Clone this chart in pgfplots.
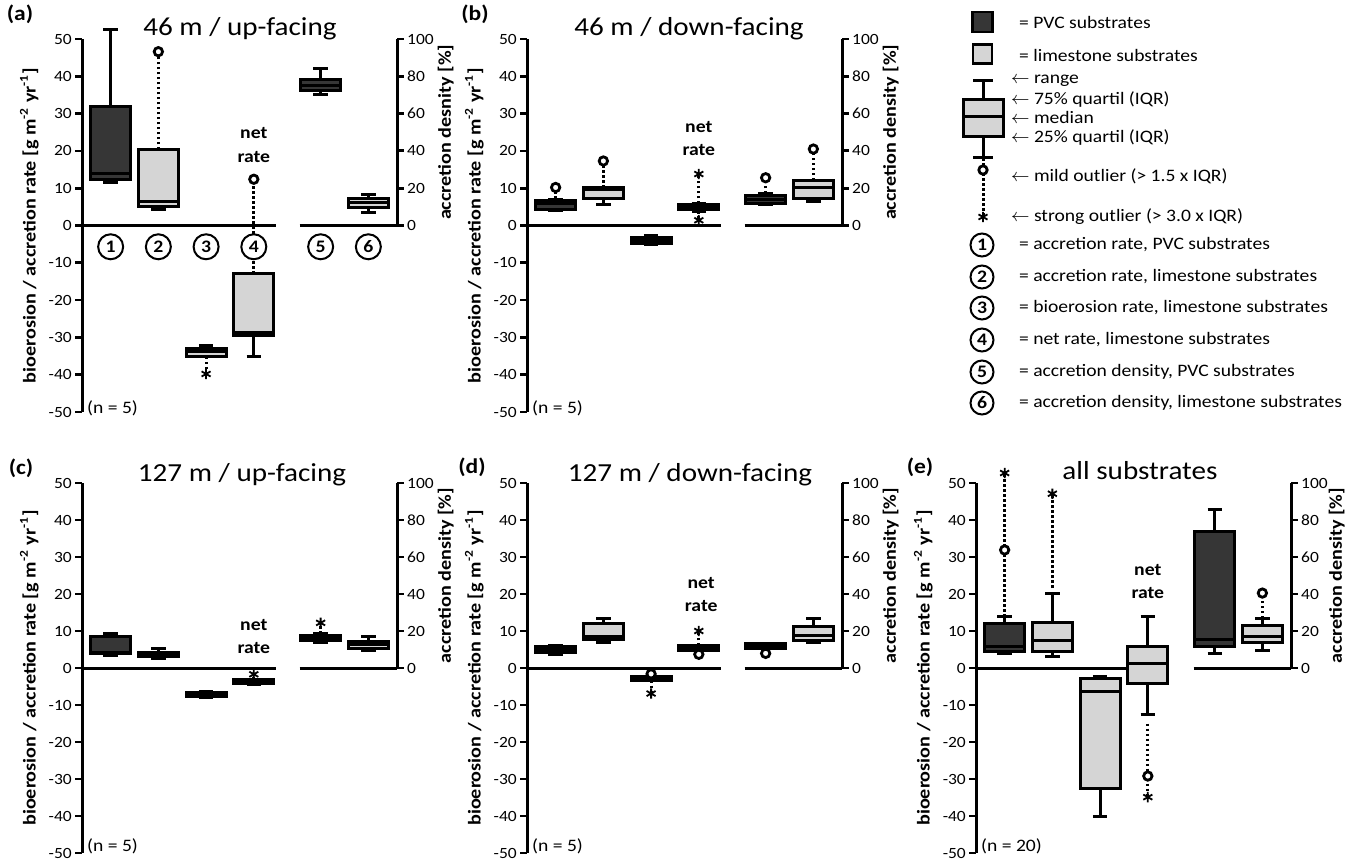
\documentclass[border=0pt]{standalone}
\usepackage{pgfplots}
\pgfplotsset{compat=1.18}
\usepgfplotslibrary{statistics}
\usepackage{fontspec}
\setmainfont{Carlito}[FakeStretch=1.12]
\definecolor{dk}{HTML}{363636}
\definecolor{lt}{HTML}{D5D5D5}
\newcommand\tfont{\fontsize{13}{15}\selectfont}
\newcommand\lfont{\fontsize{8.75}{10.5}\selectfont}
\newcommand\bfont{\bfseries\fontsize{8.8}{10}\selectfont}
\pgfplotsset{
  base/.style={scale only axis, xmin=0, xmax=6.6, clip=false, axis x line=none, xtick=\empty,
    axis line style={line width=1.5pt, black},
    major tick style={line width=1.4pt, black}, major tick length=3.4pt, tick align=outside,
    /pgf/number format/assume math mode=true,
    yticklabel style={font=\fontsize{7.8}{8}\selectfont, inner sep=1.5pt},
    ylabel style={font=\bfseries\fontsize{9}{10}\selectfont},
    boxplot/draw direction=y,
    boxplot/box extend=0.84, boxplot/whisker extend=0.3},
  mainax/.style={base, width=157.5pt, ymin=-50, ymax=50, axis y line*=left, ytick={-50,-40,...,50},
    ylabel={bioerosion / accretion rate [g m\textsuperscript{-2} yr\textsuperscript{-1}]}},
  rightax/.style={base, width=157.5pt, ymin=0, ymax=100, axis y line*=right, ytick={0,20,...,100}, ylabel shift=-3pt},
  dbox/.style={draw=black, line width=1.5pt,
    boxplot/every box/.style={draw=black, fill=dk, line width=1.5pt},
    boxplot/every median/.style={line width=1.5pt},
    boxplot/every whisker/.style={line width=1.5pt}},
  lbox/.style={draw=black, line width=1.5pt,
    boxplot/every box/.style={draw=black, fill=lt, line width=1.5pt},
    boxplot/every median/.style={line width=1.5pt},
    boxplot/every whisker/.style={line width=1.5pt}},
  zl/.style={line width=1.5pt, black},
  dot/.style={line width=1.5pt, black, dash pattern=on 1.3pt off 1.2pt},
  mild/.style={only marks, mark=*, mark size=2.1pt, mark options={fill=white, draw=black, line width=1.4pt}},
  strong/.style={only marks, mark=asterisk, mark size=2.6pt, mark options={line width=0.9pt, black}},
}
\tikzset{circ/.style={circle, draw=black, line width=1pt, fill=white, minimum size=12.5pt, inner sep=0pt, font=\bfseries\fontsize{8.8}{10}\selectfont}}
\begin{document}
\begin{tikzpicture}
\useasboundingbox (0,0) rectangle (676pt,431pt);
% titles and panel labels
\node[anchor=base, font=\tfont] at (120pt,413pt) {46 m / up-facing};
\node[anchor=base, font=\tfont] at (344.5pt,413pt) {46 m / down-facing};
\node[anchor=base, font=\tfont] at (121pt,190pt) {127 m / up-facing};
\node[anchor=base, font=\tfont] at (345pt,190pt) {127 m / down-facing};
\node[anchor=base, font=\tfont] at (570pt,191pt) {all substrates};
\node[font=\bfseries\fontsize{10.5}{12}\selectfont] at (10pt,424pt) {(a)};
\node[font=\bfseries\fontsize{10.5}{12}\selectfont] at (237.5pt,424pt) {(b)};
\node[font=\bfseries\fontsize{10.5}{12}\selectfont] at (10.5pt,197pt) {(c)};
\node[font=\bfseries\fontsize{10.5}{12}\selectfont] at (236pt,197.5pt) {(d)};
\node[font=\bfseries\fontsize{10.5}{12}\selectfont] at (460pt,197.5pt) {(e)};

% ================= (a)
\begin{axis}[mainax, name=A, at={(41pt,225pt)}, anchor=south west, height=186.5pt]
 \addplot[zl] coordinates {(0,0)(4.06,0)};
 \addplot[zl] coordinates {(4.56,0)(6.6,0)};
 \addplot[dot] coordinates {(1.6,20.4)(1.6,46.6)};
 \addplot[dot] coordinates {(2.6,-35.2)(2.6,-39.8)};
 \addplot[dot] coordinates {(3.6,-12.9)(3.6,12.4)};
 \addplot[dbox, boxplot prepared={draw position=0.6, lower whisker=11.6, lower quartile=12.4, median=13.9, upper quartile=32.0, upper whisker=52.6}] coordinates {};
 \addplot[lbox, boxplot prepared={draw position=1.6, lower whisker=4.3, lower quartile=5.2, median=6.4, upper quartile=20.4, upper whisker=20.4}] coordinates {};
 \addplot[lbox, boxplot prepared={draw position=2.6, lower whisker=-35.2, lower quartile=-35.2, median=-33.9, upper quartile=-33.0, upper whisker=-32.1}] coordinates {};
 \addplot[lbox, boxplot prepared={draw position=3.6, lower whisker=-35.1, lower quartile=-29.6, median=-28.6, upper quartile=-12.9, upper whisker=-12.9}] coordinates {};
 \addplot[mild] coordinates {(1.6,46.6)(3.6,12.4)};
 \addplot[strong] coordinates {(2.6,-39.8)};
 \node[circ] at (axis cs:0.6,-5.7) {1};
 \node[circ] at (axis cs:1.6,-5.7) {2};
 \node[circ] at (axis cs:2.6,-5.7) {3};
 \node[circ] at (axis cs:3.6,-5.7) {4};
 \node[circ] at (axis cs:5.0,-5.7) {5};
 \node[circ] at (axis cs:6.0,-5.7) {6};
 \node[font=\bfont] at (axis cs:3.6,24.7) {net};
 \node[font=\bfont] at (axis cs:3.6,18.4) {rate};
 \node[anchor=base west, inner sep=0pt, font=\lfont] at (axis cs:0.1,-50.5) {(n = 5)};
\end{axis}
\begin{axis}[rightax, at={(A.west)}, anchor=south west, height=93.25pt, ylabel={accretion desnity [\%]}]
 \addplot[dbox, boxplot prepared={draw position=5.0, lower whisker=70.5, lower quartile=72.3, median=75.3, upper quartile=78.4, upper whisker=84.4}] coordinates {};
 \addplot[lbox, boxplot prepared={draw position=6.0, lower whisker=6.8, lower quartile=9.7, median=12.3, upper quartile=14.6, upper whisker=16.8}] coordinates {};
\end{axis}

% ================= (b)
\begin{axis}[mainax, name=B, at={(263.5pt,225pt)}, anchor=south west, height=186.5pt]
 \addplot[zl] coordinates {(0,0)(4.06,0)};
 \addplot[zl] coordinates {(4.56,0)(6.6,0)};
 \addplot[dot] coordinates {(0.6,7.1)(0.6,10.2)};
 \addplot[dot] coordinates {(1.6,10.1)(1.6,17.3)};
 \addplot[dot] coordinates {(3.6,5.9)(3.6,13.8)};
 \addplot[dot] coordinates {(3.6,3.8)(3.6,1.4)};
 \addplot[dbox, boxplot prepared={draw position=0.6, lower whisker=3.9, lower quartile=4.3, median=5.9, upper quartile=6.6, upper whisker=7.1}] coordinates {};
 \addplot[lbox, boxplot prepared={draw position=1.6, lower whisker=5.5, lower quartile=7.3, median=9.7, upper quartile=10.1, upper whisker=10.1}] coordinates {};
 \addplot[lbox, boxplot prepared={draw position=2.6, lower whisker=-5.2, lower quartile=-4.7, median=-3.9, upper quartile=-3.2, upper whisker=-2.7}] coordinates {};
 \addplot[lbox, boxplot prepared={draw position=3.6, lower whisker=3.8, lower quartile=4.3, median=5.0, upper quartile=5.5, upper whisker=5.9}] coordinates {};
 \addplot[mild] coordinates {(0.6,10.2)(1.6,17.3)};
 \addplot[strong] coordinates {(3.6,13.8)(3.6,1.4)};
 \node[font=\bfont] at (axis cs:3.6,26.5) {net};
 \node[font=\bfont] at (axis cs:3.6,20.2) {rate};
 \node[anchor=base west, inner sep=0pt, font=\lfont] at (axis cs:0.1,-50.5) {(n = 5)};
\end{axis}
\begin{axis}[rightax, at={(B.west)}, anchor=south west, height=93.25pt, ylabel={accretion density [\%]}]
 \addplot[dot] coordinates {(5.0,17.2)(5.0,25.6)};
 \addplot[dot] coordinates {(6.0,24.3)(6.0,41.0)};
 \addplot[dbox, boxplot prepared={draw position=5.0, lower whisker=11.3, lower quartile=11.8, median=14.1, upper quartile=16.1, upper whisker=17.2}] coordinates {};
 \addplot[lbox, boxplot prepared={draw position=6.0, lower whisker=12.7, lower quartile=14.3, median=20.2, upper quartile=24.3, upper whisker=24.3}] coordinates {};
 \addplot[mild] coordinates {(5.0,25.6)(6.0,41.0)};
\end{axis}

% ================= (c)
\begin{axis}[mainax, name=C, at={(41pt,4.5pt)}, anchor=south west, height=185pt]
 \addplot[zl] coordinates {(0,0)(4.06,0)};
 \addplot[zl] coordinates {(4.56,0)(6.6,0)};
 \addplot[dot] coordinates {(3.6,-3.0)(3.6,-1.7)};
 \addplot[dbox, boxplot prepared={draw position=0.6, lower whisker=3.4, lower quartile=3.9, median=4.1, upper quartile=8.4, upper whisker=9.3}] coordinates {};
 \addplot[lbox, boxplot prepared={draw position=1.6, lower whisker=2.5, lower quartile=3.0, median=3.7, upper quartile=4.3, upper whisker=5.2}] coordinates {};
 \addplot[lbox, boxplot prepared={draw position=2.6, lower whisker=-8.1, lower quartile=-7.7, median=-7.2, upper quartile=-6.6, upper whisker=-6.3}] coordinates {};
 \addplot[lbox, boxplot prepared={draw position=3.6, lower whisker=-4.5, lower quartile=-4.3, median=-3.8, upper quartile=-3.2, upper whisker=-3.0}] coordinates {};
 \addplot[strong] coordinates {(3.6,-1.7)};
 \node[font=\bfont] at (axis cs:3.6,11.7) {net};
 \node[font=\bfont] at (axis cs:3.6,5.5) {rate};
 \node[anchor=base west, inner sep=0pt, font=\lfont] at (axis cs:0.1,-49.5) {(n = 5)};
\end{axis}
\begin{axis}[rightax, at={(C.west)}, anchor=south west, height=92.5pt, ylabel={accretion density [\%]}]
 \addplot[dot] coordinates {(5.0,18.5)(5.0,24.4)};
 \addplot[dbox, boxplot prepared={draw position=5.0, lower whisker=13.8, lower quartile=14.9, median=16.3, upper quartile=17.7, upper whisker=18.5}] coordinates {};
 \addplot[lbox, boxplot prepared={draw position=6.0, lower whisker=9.7, lower quartile=10.6, median=12.7, upper quartile=14.3, upper whisker=16.8}] coordinates {};
 \addplot[strong] coordinates {(5.0,24.4)};
\end{axis}

% ================= (d)
\begin{axis}[mainax, name=D, at={(263.5pt,4.5pt)}, anchor=south west, height=185pt]
 \addplot[zl] coordinates {(0,0)(4.06,0)};
 \addplot[zl] coordinates {(4.56,0)(6.6,0)};
 \addplot[dot] coordinates {(2.6,-3.4)(2.6,-6.9)};
 \addplot[dot] coordinates {(3.6,6.1)(3.6,10.0)};
 \addplot[dbox, boxplot prepared={draw position=0.6, lower whisker=3.6, lower quartile=4.3, median=5.0, upper quartile=5.7, upper whisker=6.1}] coordinates {};
 \addplot[lbox, boxplot prepared={draw position=1.6, lower whisker=6.8, lower quartile=7.6, median=8.6, upper quartile=11.9, upper whisker=13.4}] coordinates {};
 \addplot[lbox, boxplot prepared={draw position=2.6, lower whisker=-3.4, lower quartile=-3.4, median=-3.0, upper quartile=-2.4, upper whisker=-2.4}] coordinates {};
 \addplot[lbox, boxplot prepared={draw position=3.6, lower whisker=4.7, lower quartile=4.7, median=5.4, upper quartile=6.1, upper whisker=6.1}] coordinates {};
 \addplot[mild] coordinates {(2.6,-1.6)(3.6,3.7)};
 \addplot[strong] coordinates {(2.6,-6.9)(3.6,10.0)};
 \node[font=\bfont] at (axis cs:3.65,22.9) {net};
 \node[font=\bfont] at (axis cs:3.65,16.7) {rate};
 \node[anchor=base west, inner sep=0pt, font=\lfont] at (axis cs:0.1,-49.5) {(n = 5)};
\end{axis}
\begin{axis}[rightax, at={(D.west)}, anchor=south west, height=92.5pt, ylabel={accretion density [\%]}]
 \addplot[dbox, boxplot prepared={draw position=5.0, lower whisker=10.8, lower quartile=10.8, median=11.8, upper quartile=13.1, upper whisker=13.1}] coordinates {};
 \addplot[lbox, boxplot prepared={draw position=6.0, lower whisker=13.6, lower quartile=15.1, median=17.6, upper quartile=22.2, upper whisker=26.9}] coordinates {};
 \addplot[mild] coordinates {(5.0,7.9)};
\end{axis}

% ================= (e)
\begin{axis}[mainax, name=E, at={(488pt,4.5pt)}, anchor=south west, height=185pt]
 \addplot[zl] coordinates {(0,0)(4.0,0)};
 \addplot[zl] coordinates {(4.56,0)(6.6,0)};
 \addplot[dot] coordinates {(0.6,13.8)(0.6,52.7)};
 \addplot[dot] coordinates {(1.6,21.6)(1.6,47.1)};
 \addplot[dot] coordinates {(3.6,-15.0)(3.6,-34.9)};
 \addplot[dbox, boxplot prepared={draw position=0.6, lower whisker=3.9, lower quartile=4.4, median=5.9, upper quartile=11.9, upper whisker=13.8}] coordinates {};
 \addplot[lbox, boxplot prepared={draw position=1.6, lower whisker=3.0, lower quartile=4.4, median=7.3, upper quartile=12.2, upper whisker=20.1}] coordinates {};
 \addplot[lbox, boxplot prepared={draw position=2.6, lower whisker=-40.2, lower quartile=-32.6, median=-6.4, upper quartile=-2.9, upper whisker=-2.2}] coordinates {};
 \addplot[lbox, boxplot prepared={draw position=3.6, lower whisker=-12.7, lower quartile=-4.1, median=1.3, upper quartile=5.8, upper whisker=13.8}] coordinates {};
 \addplot[mild] coordinates {(0.6,31.9)(3.6,-29.2)};
 \addplot[strong] coordinates {(0.6,52.7)(1.6,47.1)(3.6,-34.9)};
 \node[font=\bfont] at (axis cs:3.6,26.5) {net};
 \node[font=\bfont] at (axis cs:3.6,20.3) {rate};
 \node[anchor=base west, inner sep=0pt, font=\lfont] at (axis cs:0.1,-49.5) {(n = 20)};
\end{axis}
\begin{axis}[rightax, at={(E.west)}, anchor=south west, height=92.5pt, ylabel={accretion density [\%]}, ylabel shift=-4.5pt]
 \addplot[dot] coordinates {(6.0,26.9)(6.0,40.5)};
 \addplot[dbox, boxplot prepared={draw position=5.0, lower whisker=7.9, lower quartile=11.5, median=15.4, upper quartile=73.7, upper whisker=85.8}] coordinates {};
 \addplot[lbox, boxplot prepared={draw position=6.0, lower whisker=9.7, lower quartile=14.0, median=16.8, upper quartile=22.9, upper whisker=26.9}] coordinates {};
 \addplot[mild] coordinates {(6.0,40.5)};
\end{axis}

% ================= legend
\node[draw=black, fill=dk, line width=1.4pt, minimum size=10pt, inner sep=0pt] at (491.25pt,420pt) {};
\node[anchor=west, font=\lfont] at (506pt,420pt) {= PVC substrates};
\node[draw=black, fill=lt, line width=1.4pt, minimum size=9.5pt, inner sep=0pt] at (491.25pt,404pt) {};
\node[anchor=west, font=\lfont] at (506pt,403.5pt) {= limestone substrates};
\begin{axis}[scale only axis, width=20pt, height=80pt, xmin=0, xmax=1, ymin=-230, ymax=-70, hide axis, clip=false,
  at={(481.5pt,316pt)}, anchor=south west, boxplot/draw direction=y, boxplot/box extend=1, boxplot/whisker extend=0.5]
 \addplot[dot] coordinates {(0.5,-158)(0.5,-217)};
 \addplot[lbox, boxplot prepared={draw position=0.5, lower whisker=-158, lower quartile=-137, median=-117, upper quartile=-100, upper whisker=-81}] coordinates {};
 \addplot[mild] coordinates {(0.5,-170)};
 \addplot[strong] coordinates {(0.5,-217)};
\end{axis}
\node[anchor=west, font=\lfont] at (502pt,390.5pt) {$\leftarrow$ range};
\node[anchor=west, font=\lfont] at (502pt,381pt) {$\leftarrow$ 75\% quartil (IQR)};
\node[anchor=west, font=\lfont] at (502pt,372.5pt) {$\leftarrow$ median};
\node[anchor=west, font=\lfont] at (502pt,362pt) {$\leftarrow$ 25\% quartil (IQR)};
\node[anchor=west, font=\lfont] at (502pt,343pt) {$\leftarrow$ mild outlier (> 1.5 x IQR)};
\node[anchor=west, font=\lfont] at (502pt,322.5pt) {$\leftarrow$ strong outlier (> 3.0 x IQR)};
\node[circ, minimum size=11.5pt] at (491pt,308.5pt) {1};
\node[anchor=west, font=\lfont] at (506pt,308.5pt) {= accretion rate, PVC substrates};
\node[circ, minimum size=11.5pt] at (491pt,292.5pt) {2};
\node[anchor=west, font=\lfont] at (506pt,292.5pt) {= accretion rate, limestone substrates};
\node[circ, minimum size=11.5pt] at (491pt,277pt) {3};
\node[anchor=west, font=\lfont] at (506pt,277pt) {= bioerosion rate, limestone substrates};
\node[circ, minimum size=11.5pt] at (491pt,261pt) {4};
\node[anchor=west, font=\lfont] at (506pt,261pt) {= net rate, limestone substrates};
\node[circ, minimum size=11.5pt] at (491pt,245pt) {5};
\node[anchor=west, font=\lfont] at (506pt,245pt) {= accretion density, PVC substrates};
\node[circ, minimum size=11.5pt] at (491pt,229.5pt) {6};
\node[anchor=west, font=\lfont] at (506pt,229.5pt) {= accretion density, limestone substrates};
\end{tikzpicture}
\end{document}
